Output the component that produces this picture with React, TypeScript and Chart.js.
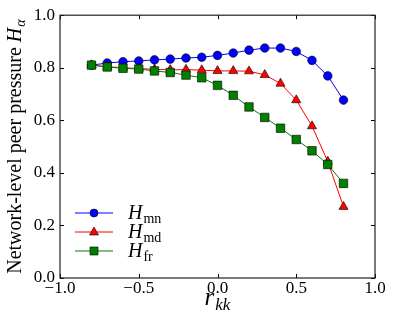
import React, { useEffect, useRef } from "react";
import { Chart, registerables } from "chart.js";

Chart.register(...registerables);

const rValues = [-0.8, -0.7, -0.6, -0.5, -0.4, -0.3, -0.2, -0.1, 0.0, 0.1, 0.2, 0.3, 0.4, 0.5, 0.6, 0.7, 0.8];
const hMn = [0.810, 0.818, 0.823, 0.826, 0.830, 0.833, 0.837, 0.840, 0.847, 0.856, 0.867, 0.875, 0.875, 0.862, 0.828, 0.769, 0.677];
const hMd = [0.810, 0.804, 0.800, 0.797, 0.794, 0.792, 0.793, 0.791, 0.788, 0.788, 0.787, 0.773, 0.740, 0.677, 0.578, 0.443, 0.271];
const hFr = [0.810, 0.803, 0.798, 0.795, 0.788, 0.782, 0.772, 0.762, 0.733, 0.695, 0.651, 0.611, 0.570, 0.527, 0.484, 0.432, 0.360];
const xTicks = [-1.0, -0.5, 0.0, 0.5, 1.0];
const yTicks = [0.0, 0.2, 0.4, 0.6, 0.8, 1.0];
const legendSubs = ["mn", "md", "fr"];

const SERIF = '"Liberation Serif", "DejaVu Serif", serif';

const fmt = (v: number) => {
  const s = Math.abs(v).toFixed(1);
  return v < -1e-9 ? "\u2212" + s : s;
};

const decorPlugin = {
  id: "decor",
  afterDraw(chart: any) {
    const { ctx, chartArea } = chart;
    const xs = chart.scales.x;
    const ys = chart.scales.y;
    const { left, right, top, bottom } = chartArea;
    ctx.save();
    // inward ticks
    ctx.strokeStyle = "#000";
    ctx.lineWidth = 1;
    const tl = 4;
    ctx.beginPath();
    xTicks.forEach((v) => {
      const px = Math.round(xs.getPixelForValue(v)) + 0.5;
      ctx.moveTo(px, bottom);
      ctx.lineTo(px, bottom - tl);
      ctx.moveTo(px, top);
      ctx.lineTo(px, top + tl);
    });
    yTicks.forEach((v) => {
      const py = Math.round(ys.getPixelForValue(v)) + 0.5;
      ctx.moveTo(left, py);
      ctx.lineTo(left + tl, py);
      ctx.moveTo(right, py);
      ctx.lineTo(right - tl, py);
    });
    ctx.stroke();
    // box
    ctx.strokeStyle = "#222";
    ctx.lineWidth = 1.2;
    ctx.strokeRect(left, top, right - left, bottom - top);

    // legend
    const ds = chart.data.datasets;
    const lx0 = left + 15;
    const lx1 = left + 53;
    const rowY0 = bottom - 65;
    const rowStep = 19;
    ds.forEach((d: any, i: number) => {
      const y = rowY0 + i * rowStep;
      ctx.strokeStyle = d.borderColor;
      ctx.lineWidth = 1;
      ctx.beginPath();
      ctx.moveTo(lx0, y);
      ctx.lineTo(lx1, y);
      ctx.stroke();
      ctx.fillStyle = d.pointBackgroundColor;
      ctx.strokeStyle = "#000";
      ctx.lineWidth = 0.6;
      const cx = (lx0 + lx1) / 2;
      if (d.pointStyle === "circle") {
        ctx.beginPath();
        ctx.arc(cx, y, 4, 0, Math.PI * 2);
        ctx.fill();
        ctx.stroke();
      } else if (d.pointStyle === "triangle") {
        ctx.beginPath();
        ctx.moveTo(cx, y - 5);
        ctx.lineTo(cx + 4.5, y + 3);
        ctx.lineTo(cx - 4.5, y + 3);
        ctx.closePath();
        ctx.fill();
        ctx.stroke();
      } else {
        ctx.beginPath();
        ctx.rect(cx - 4, y - 4, 8, 8);
        ctx.fill();
        ctx.stroke();
      }
      ctx.fillStyle = "#000";
      ctx.textAlign = "left";
      ctx.textBaseline = "alphabetic";
      ctx.font = `italic 20px ${SERIF}`;
      const tx = lx1 + 15;
      ctx.fillText("H", tx, y + 6);
      const hw = ctx.measureText("H").width;
      ctx.font = `14px ${SERIF}`;
      ctx.fillText(legendSubs[i], tx + hw + 1, y + 10);
    });

    // x title r_kk
    ctx.fillStyle = "#000";
    ctx.textBaseline = "alphabetic";
    ctx.font = `italic 25px ${SERIF}`;
    const rw = ctx.measureText("r").width;
    ctx.font = `italic 17px ${SERIF}`;
    const kw = ctx.measureText("kk").width;
    const xc = (left + right) / 2;
    const xStart = xc - (rw + kw + 1) / 2;
    ctx.font = `italic 25px ${SERIF}`;
    ctx.textAlign = "left";
    ctx.fillText("r", xStart, 305);
    ctx.font = `italic 17px ${SERIF}`;
    ctx.fillText("kk", xStart + rw + 1, 310);

    // y title
    const main = "Network-level peer pressure ";
    ctx.save();
    ctx.translate(21, (top + bottom) / 2);
    ctx.rotate(-Math.PI / 2);
    ctx.font = `20px ${SERIF}`;
    const mw = ctx.measureText(main).width;
    ctx.font = `italic 20px ${SERIF}`;
    const Hw = ctx.measureText("H").width;
    ctx.font = `italic 14px ${SERIF}`;
    const aw = ctx.measureText("\u03b1").width;
    const total = mw + Hw + aw + 1;
    let x0 = -total / 2;
    ctx.textAlign = "left";
    ctx.font = `20px ${SERIF}`;
    ctx.fillText(main, x0, 0);
    ctx.font = `italic 20px ${SERIF}`;
    ctx.fillText("H", x0 + mw, 0);
    ctx.font = `italic 14px ${SERIF}`;
    ctx.fillText("\u03b1", x0 + mw + Hw + 1, 4);
    ctx.restore();

    ctx.restore();
  },
};

export default function App() {
  const ref = useRef<HTMLCanvasElement | null>(null);
  useEffect(() => {
    if (!ref.current) return;
    const mk = (label: string, data: number[], color: string, style: string, radius: number, order: number) => ({
      label,
      data: rValues.map((x, i) => ({ x, y: data[i] })),
      borderColor: color,
      backgroundColor: color,
      pointBackgroundColor: color,
      pointBorderColor: "#000",
      pointBorderWidth: 0.6,
      pointStyle: style,
      pointRadius: radius,
      borderWidth: 1,
      tension: 0,
      order,
    });
    const chart = new Chart(ref.current, {
      type: "line",
      data: {
        datasets: [
          mk("H_mn", hMn, "#0000ff", "circle", 4.3, 3),
          mk("H_md", hMd, "#ff0000", "triangle", 5.3, 2),
          mk("H_fr", hFr, "#008000", "rect", 6, 1),
        ],
      },
      options: {
        animation: false,
        responsive: false,
        events: [],
        layout: { padding: { left: 0, top: 15, right: 19, bottom: 0 } },
        plugins: { legend: { display: false }, tooltip: { enabled: false } },
        scales: {
          x: {
            type: "linear",
            min: -1,
            max: 1,
            afterFit: (s: any) => { s.height = 50; },
            afterBuildTicks: (s: any) => { s.ticks = xTicks.map((v) => ({ value: v })); },
            grid: { display: false, drawTicks: false },
            border: { display: false },
            ticks: {
              padding: 0,
              color: "#000",
              font: { family: SERIF, size: 17 },
              callback: (v: any) => fmt(Number(v)),
            },
          },
          y: {
            type: "linear",
            min: 0,
            max: 1,
            afterFit: (s: any) => { s.width = 60; },
            afterBuildTicks: (s: any) => { s.ticks = yTicks.map((v) => ({ value: v })); },
            grid: { display: false, drawTicks: false },
            border: { display: false },
            ticks: {
              padding: 5,
              color: "#000",
              font: { family: SERIF, size: 17 },
              callback: (v: any) => fmt(Number(v)),
            },
          },
        },
      },
      plugins: [decorPlugin],
    } as any);
    return () => chart.destroy();
  }, []);
  return (
    <div style={{ position: "absolute", left: 0, top: 0, width: 394, height: 328, background: "#fff" }}>
      <canvas ref={ref} width={394} height={328} style={{ display: "block" }} />
    </div>
  );
}
